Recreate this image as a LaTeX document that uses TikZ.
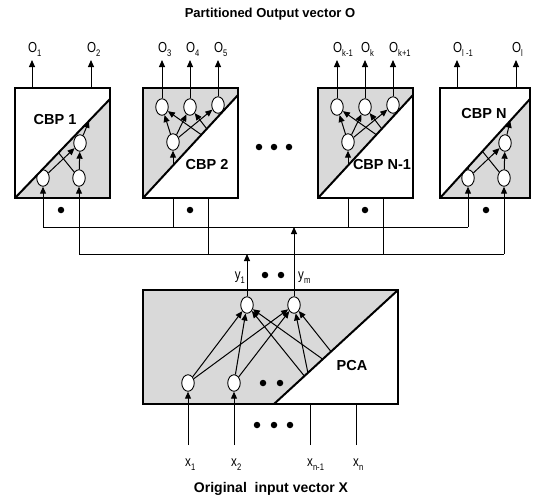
\documentclass[tikz,border=0pt]{standalone}
\usepackage{fontspec}
\setmainfont{Liberation Sans}
\newfontfamily\lblfont[FakeStretch=0.8]{Liberation Sans}
\usetikzlibrary{shapes.geometric,arrows.meta,calc}
\newcommand\subs[1]{\raisebox{-0.6ex}{\fontsize{9.5}{9.5}\selectfont #1}}
\tikzset{
  neuron/.style={draw, ellipse, fill=white, minimum width=12.5pt, minimum height=16.5pt, inner sep=0pt, line width=0.9pt},
  wire/.style={line width=1pt},
  arr/.style={wire, -{Triangle[length=7pt,width=6pt]}},
  shade/.style={fill=black!15},
  boxborder/.style={draw, line width=1.4pt},
  diag/.style={line width=2pt},
  cbplbl/.style={font=\bfseries\fontsize{14.5}{14.5}\selectfont, inner sep=0pt},
  ttl/.style={font=\bfseries\fontsize{13}{13}\selectfont, inner sep=0pt},
  olbl/.style={font=\lblfont\fontsize{14.5}{14.5}\selectfont, anchor=base west, inner sep=0pt},
  bdot/.style={circle, fill=black, minimum size=6.5pt, inner sep=0pt},
}
% type A: inputs visible, outputs hidden (CBP 1, CBP N)
\newcommand\cbpA[5]{%
\begin{scope}[shift={(#2,88)}]
  \fill[shade] (0,0) rectangle (#3,110);
  \node[neuron] (#1i1) at (28,90) {};
  \node[neuron] (#1i2) at (64,90) {};
  \coordinate (#1h1) at (30,48);
  \node[neuron] (#1h2) at (65,55) {};
  \coordinate (#1tip) at ($(0,110)!0.78!(#3,11)$);
  \draw[arr] (#1i1) -- (#1h1);
  \draw[arr] (#1i2) -- (#1h1);
  \draw[arr] (#1i1) -- (#1h2);
  \draw[arr] (#1i2) -- (#1h2);
  \draw[arr] (#1h2) -- (#1tip);
  \fill[white] (0,0) -- (#3,0) -- (#3,11) -- (0,110) -- cycle;
  \draw[diag] (0,110) -- (#3,11);
  \draw[boxborder] (0,0) rectangle (#3,110);
  \node[cbplbl] (#1lbl) at (#5) {#4};
  \coordinate (#1b1) at (17,0);
  \coordinate (#1t1) at (17,-28);
  \coordinate (#1b2) at (76,0);
  \coordinate (#1t2) at (76,-28);
  \draw[arr] (#1b1) -- (#1t1);
  \draw[arr] (#1b2) -- (#1t2);
  \coordinate (#1in1) at (28,110);
  \coordinate (#1in2) at (64,110);
  \node[bdot] (#1dot) at (46,122) {};
\end{scope}}
% type B: outputs visible, inputs hidden (CBP 2, CBP N-1)
\newcommand\cbpB[3]{%
\begin{scope}[shift={(#2,88)}]
  \fill[shade] (0,0) rectangle (95,110);
  \node[neuron] (#1o1) at (19,19) {};
  \node[neuron] (#1o2) at (47,19) {};
  \node[neuron] (#1o3) at (75,17) {};
  \node[neuron] (#1h1) at (30,54) {};
  \coordinate (#1h2) at (80,62);
  \coordinate (#1in) at (30,97);
  \foreach \o in {o1,o2,o3} {\draw[arr] (#1h1) -- (#1\o); \draw[arr] (#1h2) -- (#1\o);}
  \draw[arr] (#1in) -- (#1h1);
  \fill[white] (95,7) -- (95,110) -- (0,110) -- cycle;
  \draw[diag] (0,110) -- (95,7);
  \draw[boxborder] (0,0) rectangle (95,110);
  \node[cbplbl] (#1lbl) at (64,77) {#3};
  \coordinate (#1t1) at (19,-28);
  \coordinate (#1t2) at (47,-28);
  \coordinate (#1t3) at (75,-28);
  \draw[arr] (#1o1) -- (#1t1);
  \draw[arr] (#1o2) -- (#1t2);
  \draw[arr] (#1o3) -- (#1t3);
  \coordinate (#1in1) at (30,110);
  \coordinate (#1in2) at (65,110);
  \node[bdot] (#1dot) at (47,122) {};
\end{scope}}
\begin{document}
\begin{tikzpicture}[x=1pt,y=-1pt]
\useasboundingbox (0,0) rectangle (540,501);
\node[ttl] (title) at (270,14) {Partitioned Output vector O};

\cbpA{A}{15}{95}{CBP 1}{40,32}
\cbpB{B}{143}{CBP 2}
\cbpB{C}{318}{CBP N-1}
\cbpA{D}{440}{90}{CBP N}{44,26}

% output labels
\node[olbl] (lo1) at ($(At1)+(-4,-8)$) {O\subs{1}};
\node[olbl] (lo2) at ($(At2)+(-4,-8)$) {O\subs{2}};
\node[olbl] (lo3) at ($(Bt1)+(-4,-8)$) {O\subs{3}};
\node[olbl] (lo4) at ($(Bt2)+(-4,-8)$) {O\subs{4}};
\node[olbl] (lo5) at ($(Bt3)+(-4,-8)$) {O\subs{5}};
\node[olbl] (lok1) at ($(Ct1)+(-4,-8)$) {O\subs{k-1}};
\node[olbl] (lok) at ($(Ct2)+(-4,-8)$) {O\subs{k}};
\node[olbl] (lok2) at ($(Ct3)+(-4,-8)$) {O\subs{k+1}};
\node[olbl] (lol1) at ($(Dt1)+(-4,-8)$) {O\subs{l -1}};
\node[olbl] (lol) at ($(Dt2)+(-4,-8)$) {O\subs{l}};

% ellipsis between boxes
\node[bdot] (e1) at (259,147) {};
\node[bdot] (e2) at (274,147) {};
\node[bdot] (e3) at (289,147) {};

% bus lines
\coordinate (LA1) at (Ai1 |- 0,227);
\coordinate (LA2) at (Bin1 |- 0,227);
\coordinate (LA3) at (Cin1 |- 0,227);
\coordinate (LA4) at (Di1 |- 0,227);
\coordinate (LB1) at (Ai2 |- 0,254);
\coordinate (LB2) at (Bin2 |- 0,254);
\coordinate (LB3) at (Cin2 |- 0,254);
\coordinate (LB4) at (Di2 |- 0,254);
\draw[wire] (LA1) -- (LA4);
\draw[wire] (LB1) -- (LB4);
\draw[arr] (LA1) -- (Ai1);
\draw[arr] (LB1) -- (Ai2);
\draw[wire] (LA2) -- (Bin1);
\draw[wire] (LB2) -- (Bin2);
\draw[wire] (LA3) -- (Cin1);
\draw[wire] (LB3) -- (Cin2);
\draw[arr] (LA4) -- (Di1);
\draw[arr] (LB4) -- (Di2);

% PCA
\fill[shade] (143,290) rectangle (398,404);
\node[neuron] (y1) at (247,305) {};
\node[neuron] (ym) at (294,305) {};
\node[neuron] (x1) at (188,383) {};
\node[neuron] (x2) at (234,383) {};
\coordinate (x3) at (310,383);
\coordinate (x4) at (356,383);
\foreach \a in {x1,x2,x3,x4} {\foreach \b in {y1,ym} {\draw[arr] (\a) -- (\b);}}
\node[bdot] (pd1) at (263,383) {};
\node[bdot] (pd2) at (280,383) {};
\fill[white] (274,404) -- (398,290) -- (398,404) -- cycle;
\draw[diag] (274,404) -- (398,290);
\draw[boxborder] (143,290) rectangle (398,404);
\node[cbplbl] (pcalbl) at (352,366) {PCA};

% PCA outputs
\coordinate (Y1) at (y1 |- LB1);
\coordinate (YM) at (ym |- LA1);
\draw[arr] (y1) -- (Y1);
\draw[arr] (ym) -- (YM);
\node[olbl, anchor=base east] (ly1) at (245,279) {y\subs{1}};
\node[olbl] (lym) at (298,279) {y\subs{m}};
\node[bdot] (yd1) at (265,275) {};
\node[bdot] (yd2) at (281,275) {};

% inputs
\coordinate (xb1) at (188,445);
\coordinate (xb2) at (234,445);
\coordinate (xb3) at (310,445);
\coordinate (xt3) at (310,404);
\coordinate (xb4) at (356,445);
\coordinate (xt4) at (356,404);
\draw[arr] (xb1) -- (x1);
\draw[arr] (xb2) -- (x2);
\draw[wire] (xb3) -- (xt3);
\draw[wire] (xb4) -- (xt4);
\node[bdot] (xd1) at (257,425) {};
\node[bdot] (xd2) at (274,425) {};
\node[bdot] (xd3) at (290,425) {};
\node[olbl] (lx1) at (185,466) {x\subs{1}};
\node[olbl] (lx2) at (231,466) {x\subs{2}};
\node[olbl] (lx3) at (307,466) {x\subs{n-1}};
\node[olbl] (lx4) at (353,466) {x\subs{n}};
\node[ttl, font=\bfseries\fontsize{14}{14}\selectfont] (btitle) at (271,489) {Original\ \ input vector X};
\end{tikzpicture}
\end{document}
